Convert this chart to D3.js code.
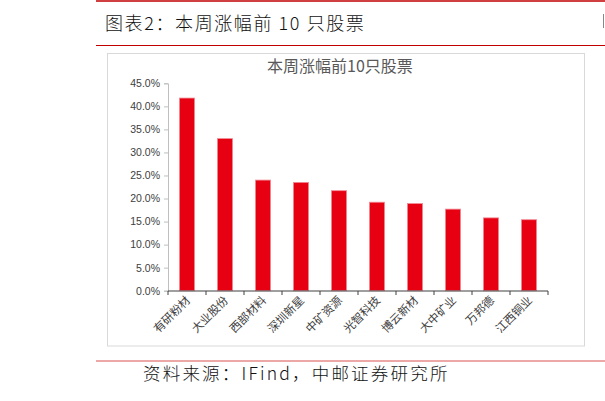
<!DOCTYPE html>
<html>
<head>
<meta charset="utf-8">
<script src="https://cdn.jsdelivr.net/npm/d3@7"></script>
<style>
  body { margin: 0; background: #fff; }
  svg { display: block; font-family: "Noto Sans CJK SC", "Noto Sans", sans-serif; }
</style>
</head>
<body>
<svg id="chart" width="605" height="401"></svg>
<script>
const stocks = ['有研粉材', '大业股份', '西部材料', '深圳新星', '中矿资源', '光智科技', '博云新材', '大中矿业', '万邦德', '江西铜业']
const gains = [41.8, 33.0, 24.0, 23.5, 21.7, 19.2, 18.9, 17.7, 15.8, 15.4]
const yTicks = [0, 5, 10, 15, 20, 25, 30, 35, 40, 45]

const svg = d3.select('#chart')

// header lines and caption
svg.append('line').attr('x1', 96).attr('x2', 605).attr('y1', 1).attr('y2', 1)
  .style('stroke', '#c00000').style('stroke-width', 1.5)
svg.append('line').attr('x1', 96).attr('x2', 605).attr('y1', 45.5).attr('y2', 45.5)
  .style('stroke', '#c00000').style('stroke-width', 1.2)
svg.append('text').text('图表2：本周涨幅前 10 只股票')
  .attr('x', 105).attr('y', 30)
  .attr('font-size', '18px').attr('letter-spacing', '1.6px')
  .style('font-weight', 300).style('fill', '#111')
// sliver of a cut-off glyph at the right edge
svg.append('line').attr('x1', 603.5).attr('x2', 603.5).attr('y1', 14).attr('y2', 28)
  .style('stroke', '#888').style('stroke-width', 1)

svg.append('line').attr('x1', 96).attr('x2', 605).attr('y1', 361).attr('y2', 361)
  .style('stroke', '#d9534f').style('stroke-width', 1.2)
svg.append('text').text('资料来源：IFind，中邮证券研究所')
  .attr('x', 143).attr('y', 380)
  .attr('font-size', '17.5px').attr('letter-spacing', '2.2px')
  .style('font-weight', 300).style('fill', '#111')

// chart frame
svg.append('rect').attr('x', 107.5).attr('y', 53.5).attr('width', 477).attr('height', 292.5)
  .style('fill', 'none').style('stroke', '#d9d9d9')

svg.append('text').text('本周涨幅前10只股票')
  .attr('x', 340).attr('y', 72)
  .attr('text-anchor', 'middle')
  .attr('font-size', '16px').style('fill', '#595959')

const x = d3.scaleBand().domain(stocks).range([168, 548]).paddingInner(0.6).paddingOuter(0.3)
const y = d3.scaleLinear().domain([0, 45]).range([290.7, 83.3])

// y axis
const yAxis = svg.append('g').attr('transform', 'translate(168,0)')
  .call(d3.axisLeft(y).tickValues(yTicks).tickSize(4).tickFormat(d => d.toFixed(1) + '%'))
yAxis.select('.domain').style('stroke', '#bfbfbf')
yAxis.selectAll('.tick line').style('stroke', '#bfbfbf')
yAxis.selectAll('.tick text').attr('x', -8)
  .style('font-family', '"Liberation Sans", Arial, sans-serif')
  .style('font-size', '10.5px').style('fill', '#404040')

// bars
svg.append('g').selectAll('rect').data(gains).join('rect')
  .attr('x', (d, i) => x(stocks[i]))
  .attr('y', d => y(d))
  .attr('width', x.bandwidth())
  .attr('height', d => y(0) - y(d))
  .style('fill', '#e60012')
  .style('stroke', '#f28b95').style('stroke-width', 0.8)

// x axis
const step = x.step()
const xAxis = svg.append('g').attr('transform', 'translate(0,291)')
xAxis.append('line').attr('x1', 168).attr('x2', 548)
  .style('stroke', '#404040').style('stroke-width', 1.2)
xAxis.selectAll('line.tk').data(d3.range(stocks.length + 1)).join('line')
  .attr('class', 'tk')
  .attr('x1', i => 168 + i * step).attr('x2', i => 168 + i * step)
  .attr('y1', 0).attr('y2', 4)
  .style('stroke', '#404040')
xAxis.selectAll('text').data(stocks).join('text')
  .text(d => d)
  .attr('text-anchor', 'end')
  .attr('font-size', '11.5px')
  .style('fill', '#404040')
  .attr('transform', d => `translate(${x(d) + x.bandwidth() / 2 + 4},${10}) rotate(-45)`)
</script>
</body>
</html>
